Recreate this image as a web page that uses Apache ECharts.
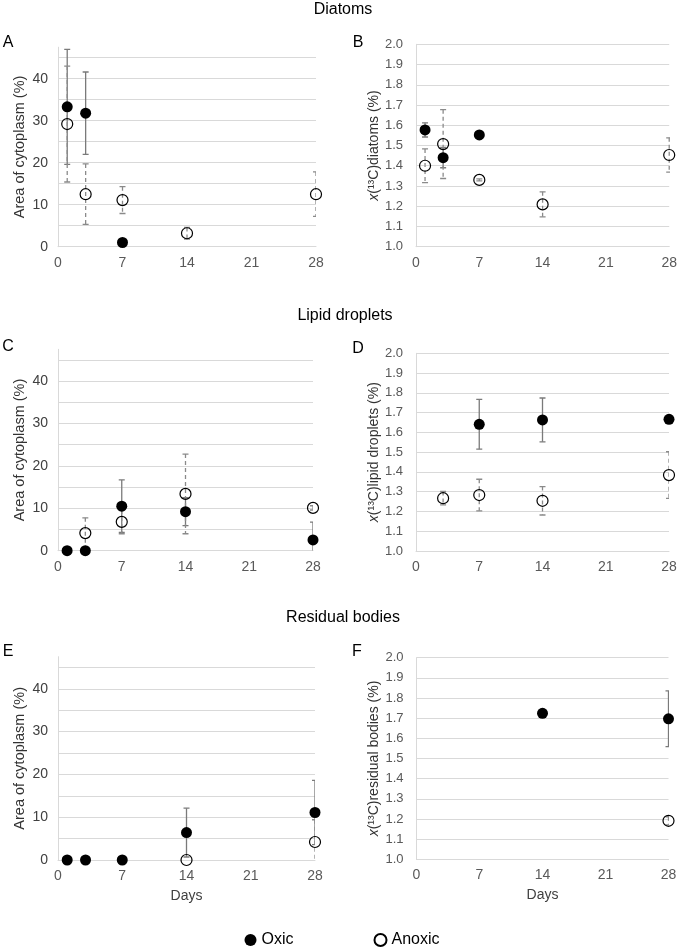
<!DOCTYPE html>
<html><head><meta charset="utf-8">
<script src="https://cdn.jsdelivr.net/npm/echarts@6/dist/echarts.min.js"></script>
<style>html,body{margin:0;padding:0;background:#fff}#c{width:680px;height:948px}</style>
</head><body><div id="c"></div>
<script>
// ---------- data ----------
const days = [1, 3, 7, 14, 28];
const xTicks = [0, 7, 14, 21, 28];
const sectionTitles = ['Diatoms', 'Lipid droplets', 'Residual bodies'];
const panelLetters = ['A', 'B', 'C', 'D', 'E', 'F'];
const leftYName = 'Area of cytoplasm (%)';
const rightYNames = ['diatoms', 'lipid droplets', 'residual bodies'];
const areaTicks = [0, 10, 20, 30, 40];
const fracTicks = [1.0, 1.1, 1.2, 1.3, 1.4, 1.5, 1.6, 1.7, 1.8, 1.9, 2.0];
const seriesNames = ['Oxic', 'Anoxic'];

// A: diatoms, area of cytoplasm
const oxicA = [33.3, 31.8, 1.0, null, null];
const oxicAErr = [13.7, 9.8, 0, null, null];
const anoxA = [29.2, 12.5, 11.1, 3.2, 12.5];
const anoxAErr = [13.8, 7.2, 3.2, 1.4, 5.3];
// B: diatoms, x(13C)
const oxicB = [1.577, 1.44, 1.552, null, null];
const oxicBErr = [0.035, 0.05, 0, null, null];
const anoxB = [1.40, 1.507, 1.33, 1.209, 1.453];
const anoxBErr = [0.083, 0.17, 0.005, 0.062, 0.085];
// C: lipid droplets, area
const oxicC = [0, 0, 10.5, 9.2, 2.55];
const oxicCErr = [0, 0, 6.2, 3.3, 4.2];
const anoxC = [null, 4.15, 6.8, 13.4, 10.1];
const anoxCErr = [null, 3.6, 2.8, 9.4, 0.5];
// D: lipid droplets, x(13C)
const oxicD = [null, null, 1.641, 1.663, 1.666];
const oxicDErr = [null, null, 0.126, 0.111, 0];
const anoxD = [null, 1.267, 1.283, 1.254, 1.384];
const anoxDErr = [null, 0.034, 0.08, 0.072, 0.118];
// E: residual bodies, area
const oxicE = [0, 0, 0, 6.4, 11.1];
const oxicEErr = [0, 0, 0, 5.7, 7.5];
const anoxE = [null, null, null, 0, 4.2];
const anoxEErr = [null, null, null, 0, 5.2];
// F: residual bodies, x(13C)
const oxicF = [null, null, null, 1.724, 1.697];
const oxicFErr = [null, null, null, 0, 0.138];
const anoxF = [null, null, null, null, 1.191];
const anoxFErr = [null, null, null, null, 0.02];

// ---------- layout ----------
const FONT = 'Liberation Sans, Arial, sans-serif';
const grids = [
  {left: 58, top: 47.2, width: 258, height: 199.5},
  {left: 416, top: 44.3, width: 254, height: 202.4},
  {left: 58, top: 349.3, width: 255, height: 201.4},
  {left: 416, top: 353.3, width: 253, height: 197.7},
  {left: 58, top: 656.7, width: 257, height: 203.3},
  {left: 416.5, top: 657.7, width: 252, height: 201.6}
];
const panels = [
  [oxicA, oxicAErr, anoxA, anoxAErr],
  [oxicB, oxicBErr, anoxB, anoxBErr],
  [oxicC, oxicCErr, anoxC, anoxCErr],
  [oxicD, oxicDErr, anoxD, anoxDErr],
  [oxicE, oxicEErr, anoxE, anoxEErr],
  [oxicF, oxicFErr, anoxF, anoxFErr]
];
const GRID = '#d9d9d9';
const LABEL = '#595959';

const xAxes = grids.map((g, i) => ({
  type: 'value', gridIndex: i, min: xTicks[0], max: xTicks[xTicks.length - 1],
  interval: xTicks[1] - xTicks[0],
  axisLine: {show: true, lineStyle: {color: GRID, width: 1}},
  axisTick: {show: false}, splitLine: {show: false},
  axisLabel: {color: LABEL, fontSize: 14, fontFamily: FONT, margin: 9},
  name: i >= 4 ? 'Days' : '', nameLocation: 'middle', nameGap: 29,
  nameTextStyle: {color: '#404040', fontSize: 14, fontFamily: FONT}
}));

const leftSplitColors = [];
for (let k = 0; k < 10; k++) leftSplitColors.push(GRID);
leftSplitColors.push('rgba(0,0,0,0)');

const yAxes = grids.map((g, i) => {
  const left = i % 2 === 0;
  if (left) {
    return {
      type: 'value', gridIndex: i, min: 0, max: 47.5, interval: 5,
      axisLine: {show: true, lineStyle: {color: GRID}}, axisTick: {show: false},
      splitLine: {show: true, showMaxLine: false, lineStyle: {color: leftSplitColors, width: 1}},
      axisLabel: {color: '#404040', fontSize: 14, fontFamily: FONT, margin: 10,
        formatter: v => (areaTicks.indexOf(v) >= 0 ? String(v) : '')},
      name: leftYName, nameLocation: 'middle', nameRotate: 90, nameGap: 31,
      nameTextStyle: {color: '#333', fontSize: 14.5, fontFamily: FONT}
    };
  }
  return {
    type: 'value', gridIndex: i, min: fracTicks[0], max: fracTicks[fracTicks.length - 1], interval: 0.1,
    axisLine: {show: true, lineStyle: {color: GRID}}, axisTick: {show: false},
    splitLine: {show: true, lineStyle: {color: GRID, width: 1}},
    axisLabel: {color: LABEL, fontSize: 13, fontFamily: FONT, margin: 13,
      formatter: v => Number(v).toFixed(1)},
    name: '{i|x}(¹³C)' + rightYNames[(i - 1) / 2] + ' (%)',
    nameLocation: 'middle', nameRotate: 90, nameGap: 33,
    nameTextStyle: {color: '#333', fontSize: 14, fontFamily: FONT,
      rich: {i: {fontStyle: 'italic', fontSize: 14, fontFamily: FONT, color: '#333'}}}
  };
});

function pts(vals) {
  const out = [];
  days.forEach((d, j) => { if (vals[j] != null) out.push([d, vals[j]]); });
  return out;
}
function errPts(vals, errs) {
  const out = [];
  days.forEach((d, j) => { if (vals[j] != null && errs[j]) out.push([d, vals[j], errs[j]]); });
  return out;
}

const series = [];
panels.forEach((p, i) => {
  const ymin = yAxes[i].min, ymax = yAxes[i].max;
  [[p[0], p[1], false], [p[2], p[3], true]].forEach(([vals, errs, dashed], s) => {
    series.push({
      type: 'custom', name: seriesNames[s] + ' error', xAxisIndex: i, yAxisIndex: i,
      z: 2, silent: true, clip: true, data: errPts(vals, errs), encode: {x: 0, y: 1},
      renderItem(params, api) {
        const x = api.value(0), y = api.value(1), e = api.value(2);
        const hiV = Math.min(y + e, ymax), loV = Math.max(y - e, ymin);
        const p1 = api.coord([x, hiV]), p2 = api.coord([x, loV]);
        const base = {stroke: dashed ? '#8a8a8a' : '#7a7a7a', lineWidth: 1.3, fill: null};
        const vStyle = dashed ? Object.assign({lineDash: [4, 3]}, base) : base;
        const cw = 3;
        const ch = [{type: 'line', shape: {x1: p1[0], y1: p1[1], x2: p2[0], y2: p2[1]}, style: vStyle}];
        if (y + e <= ymax) ch.push({type: 'line', shape: {x1: p1[0] - cw, y1: p1[1], x2: p1[0] + cw, y2: p1[1]}, style: base});
        if (y - e >= ymin) ch.push({type: 'line', shape: {x1: p2[0] - cw, y1: p2[1], x2: p2[0] + cw, y2: p2[1]}, style: base});
        return {type: 'group', children: ch};
      }
    });
    series.push({
      type: 'scatter', name: seriesNames[s], xAxisIndex: i, yAxisIndex: i, z: 3, silent: true,
      data: pts(vals), symbol: 'circle', symbolSize: 11, clip: false,
      itemStyle: s === 0 ? {color: '#000', opacity: 1}
                          : {color: 'rgba(255,255,255,0)', borderColor: '#000', borderWidth: 1.2, opacity: 1},
      emphasis: {disabled: true}
    });
  });
});

const titlePos = [[343, 10], [345, 316], [343, 618]];
const letterPos = [[8, 43], [358, 43], [8, 347], [358, 349], [8, 652], [357, 652]];
const graphics = [];
sectionTitles.forEach((t, k) => graphics.push({
  type: 'text', x: titlePos[k][0], y: titlePos[k][1],
  style: {text: t, fontSize: 16, fontFamily: FONT, fill: '#000', align: 'center', verticalAlign: 'middle'}
}));
panelLetters.forEach((t, k) => graphics.push({
  type: 'text', x: letterPos[k][0], y: letterPos[k][1],
  style: {text: t, fontSize: 16, fontFamily: FONT, fill: '#000', align: 'center', verticalAlign: 'middle'}
}));

const chart = echarts.init(document.getElementById('c'), null, {renderer: 'canvas'});
chart.setOption({
  animation: false,
  backgroundColor: '#fff',
  grid: grids.map(g => Object.assign({containLabel: false}, g)),
  xAxis: xAxes,
  yAxis: yAxes,
  series,
  graphic: graphics,
  legend: {
    data: seriesNames, left: 239.5, top: 927, itemWidth: 12, itemHeight: 12, itemGap: 80,
    icon: 'circle', selectedMode: false,
    textStyle: {fontSize: 16, fontFamily: FONT, color: '#000'}
  }
});
</script></body></html>
